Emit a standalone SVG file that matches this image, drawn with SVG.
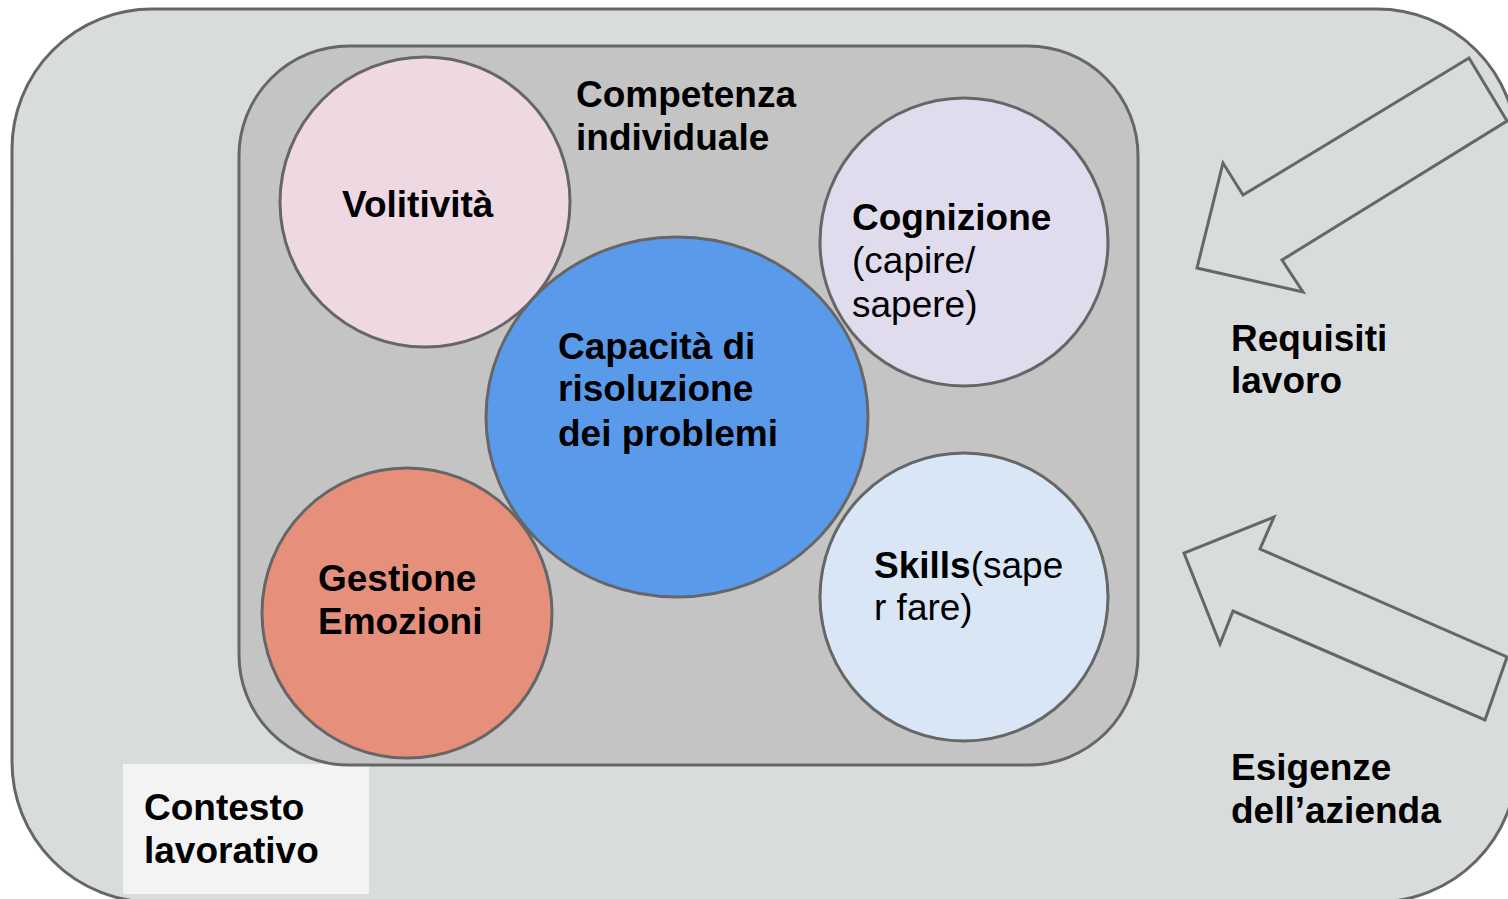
<svg xmlns="http://www.w3.org/2000/svg" width="1508" height="899" viewBox="0 0 1508 899">
<style>
.s{stroke:#666;stroke-width:3}
.b{font-family:"Liberation Sans",Arial,sans-serif;font-size:37px;font-weight:bold;fill:#000}
.r{font-family:"Liberation Sans",Arial,sans-serif;font-size:37px;font-weight:normal;fill:#000}
</style>
<rect width="1508" height="899" fill="#ffffff"/>
<g id="contesto">
<rect class="s" x="12" y="9" width="1505" height="893" rx="140" ry="140" fill="#d9dcdd"/>
<rect x="123" y="764" width="246" height="130" fill="#f3f3f3"/>
<text class="b" x="144" y="820">Contesto</text>
<text class="b" x="144" y="863">lavorativo</text>
</g>
<g id="competenza">
<rect class="s" x="239" y="46" width="899" height="719" rx="110" ry="110" fill="#c4c4c4"/>
<text class="b" x="576" y="107">Competenza</text>
<text class="b" x="576" y="150">individuale</text>
</g>
<g id="volitivita">
<circle class="s" cx="425" cy="202" r="145" fill="#eed8e2"/>
<text class="b" x="342" y="217">Volitività</text>
</g>
<g id="cognizione">
<circle class="s" cx="964" cy="242" r="144" fill="#e1dbee"/>
<text class="b" x="852" y="230">Cognizione</text>
<text class="r" x="852" y="273">(capire/</text>
<text class="r" x="852" y="317">sapere)</text>
</g>
<g id="gestione">
<circle class="s" cx="407" cy="613" r="145" fill="#e6907c"/>
<text class="b" x="318" y="591">Gestione</text>
<text class="b" x="318" y="634">Emozioni</text>
</g>
<g id="skills">
<circle class="s" cx="964" cy="597" r="144" fill="#d9e6f6"/>
<text x="874" y="578"><tspan class="b">Skills</tspan><tspan class="r">(sape</tspan></text>
<text class="r" x="874" y="620">r fare)</text>
</g>
<g id="capacita">
<ellipse class="s" cx="677" cy="417" rx="191" ry="180" fill="#5a9aeb"/>
<text class="b" x="558" y="359">Capacità di</text>
<text class="b" x="558" y="401">risoluzione</text>
<text class="b" x="558" y="446">dei problemi</text>
</g>
<g id="requisiti">
<polygon class="s" fill="none" stroke-linejoin="miter" points="1469,58 1507,121 1282,260 1303,292 1197,268 1223,163 1243,195"/>
<text class="b" x="1231" y="351">Requisiti</text>
<text class="b" x="1231" y="393">lavoro</text>
</g>
<g id="esigenze">
<polygon class="s" fill="none" stroke-linejoin="miter" points="1274,517 1260,549 1507,657 1485,720 1233,611 1220,644 1184,553"/>
<text class="b" x="1231" y="780">Esigenze</text>
<text class="b" x="1231" y="823">dell’azienda</text>
</g>
<g id="connectors"></g>
</svg>
